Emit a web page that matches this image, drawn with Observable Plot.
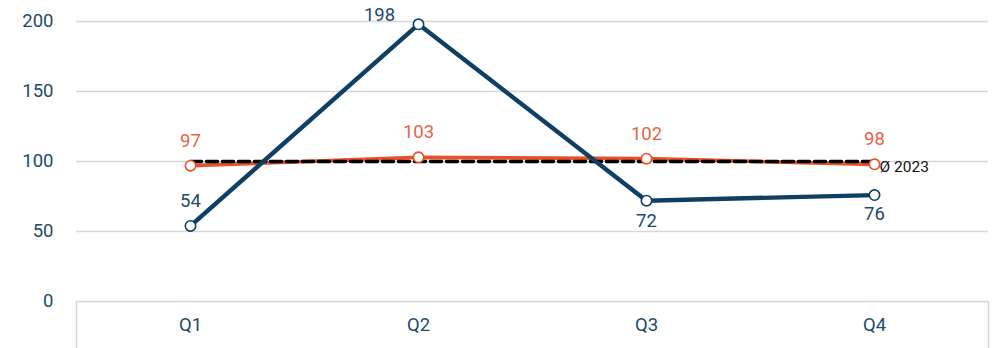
<!DOCTYPE html>
<html>
<head>
<meta charset="utf-8">
<script src="https://cdn.jsdelivr.net/npm/d3@7"></script>
<script src="https://cdn.jsdelivr.net/npm/@observablehq/plot@0.6"></script>
<style>
  html, body { margin: 0; padding: 0; background: #fff; }
  #chart { width: 993px; height: 348px; }
  svg { font-family: Roboto, "Noto Sans", sans-serif; }
</style>
</head>
<body>
<div id="chart"></div>
<script>
const quarters = ["Q1", "Q2", "Q3", "Q4"];
const blueValues = [54, 198, 72, 76];
const orangeValues = [97, 103, 102, 98];
const averageValue = 100;
const averageLabel = "Ø 2023";
const yTicks = [0, 50, 100, 150, 200];

const blue = quarters.map((q, i) => ({q, v: blueValues[i]}));
const orange = quarters.map((q, i) => ({q, v: orangeValues[i]}));
const avg = quarters.map(q => ({q, v: averageValue}));

const BLUE = "#0f3f62";
const BLUE_TXT = "#1e4a6c";
const ORANGE = "#e8502a";
const ORANGE_TXT = "#e2654a";

// per-point label offsets for the blue series
const blueLabelPos = [
  {dx: 0, dy: -25}, {dx: -39, dy: -9}, {dx: 0, dy: 20}, {dx: 0, dy: 19}
];

const chart = Plot.plot({
  width: 993,
  height: 348,
  marginLeft: 76,
  marginRight: 5,
  marginTop: 21,
  marginBottom: 47,
  style: {fontFamily: "Roboto, 'Noto Sans', sans-serif", background: "#fff"},
  x: {type: "point", domain: quarters, padding: 0.5, label: null, axis: null},
  y: {domain: [0, 200], label: null, axis: null},
  marks: [
    Plot.ruleY(yTicks.filter(d => d > 0), {stroke: "#d6d6d6", strokeWidth: 1.3}),
    Plot.ruleY([0], {stroke: "#d6d6d6", strokeWidth: 1.5}),
    Plot.ruleX(["Q1"], {dx: -114, y1: 0, y2: -34, stroke: "#d6d6d6", strokeWidth: 1.5, clip: false}),
    Plot.ruleX(["Q4"], {dx: 114, y1: 0, y2: -34, stroke: "#d6d6d6", strokeWidth: 1.5, clip: false}),
    Plot.axisY({ticks: yTicks, tickSize: 0, tickPadding: 23, fontSize: 18.5, color: BLUE_TXT, label: null}),
    Plot.text(quarters, {x: d => d, y: 0, dy: 24, text: d => d, fontSize: 18.5, fill: BLUE_TXT}),
    Plot.line(orange, {x: "q", y: "v", stroke: ORANGE, strokeWidth: 3.8}),
    Plot.line(avg, {x: "q", y: "v", stroke: "#000", strokeWidth: 3.6, strokeDasharray: "11,5"}),
    Plot.line(blue, {x: "q", y: "v", stroke: BLUE, strokeWidth: 4.4}),
    Plot.dot(orange, {x: "q", y: "v", r: 5.2, fill: "#fff", stroke: ORANGE, strokeWidth: 1.6}),
    Plot.dot(blue, {x: "q", y: "v", r: 5.2, fill: "#fff", stroke: BLUE, strokeWidth: 1.6}),
    Plot.text(orange, {x: "q", y: "v", text: d => String(d.v), dy: -25, fontSize: 18.5, fill: ORANGE_TXT}),
    ...blue.map((d, i) => Plot.text([d], {x: "q", y: "v", text: d => String(d.v), dx: blueLabelPos[i].dx, dy: blueLabelPos[i].dy, fontSize: 18.5, fill: BLUE_TXT})),
    Plot.text([avg[avg.length - 1]], {x: "q", y: "v", text: () => averageLabel, dx: 5, dy: 6, textAnchor: "start", fontSize: 15.5, fill: "#111"})
  ]
});
document.getElementById("chart").appendChild(chart);
</script>
</body>
</html>
